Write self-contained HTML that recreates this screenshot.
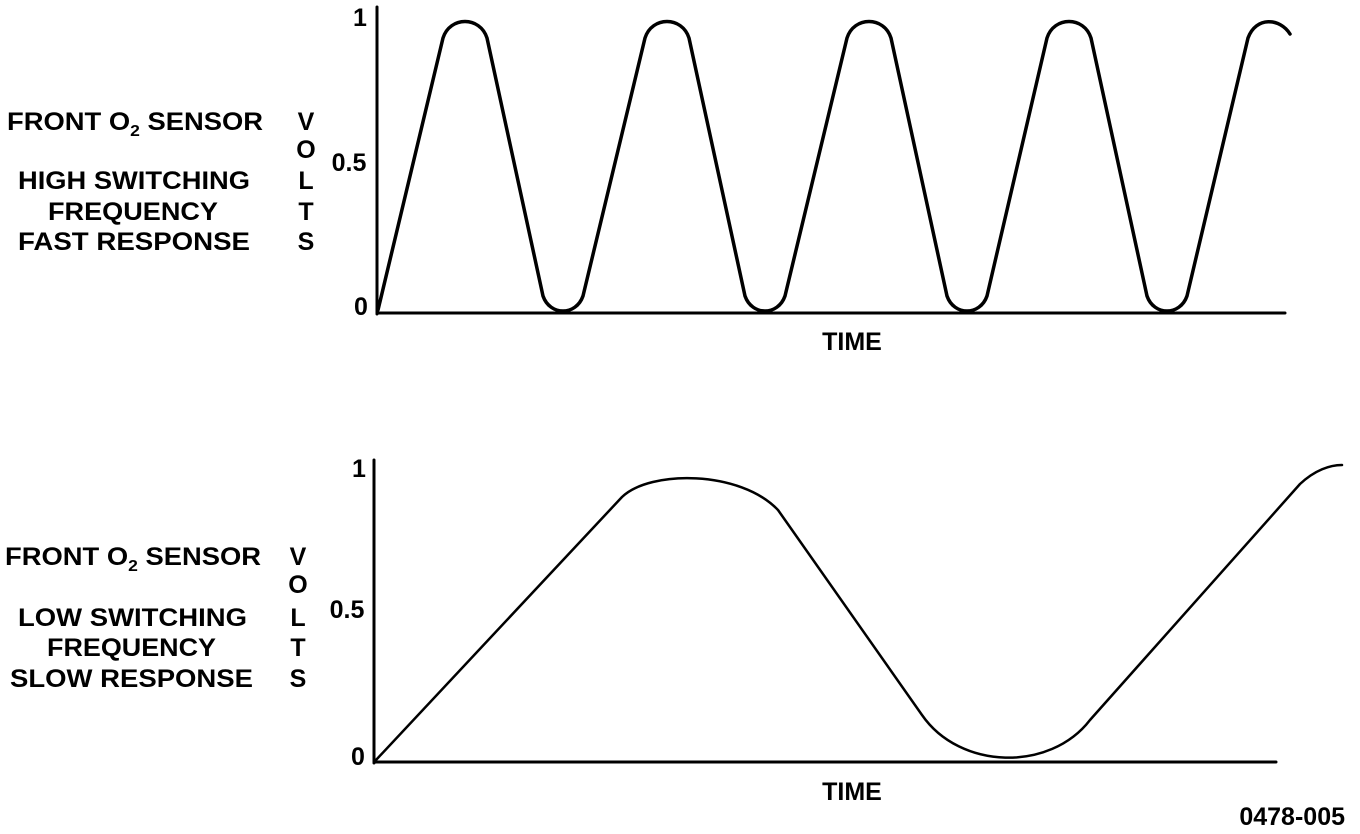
<!DOCTYPE html>
<html><head><meta charset="utf-8"><style>
html,body{margin:0;padding:0;background:#fff;}
svg{display:block;}
text{font-family:"Liberation Sans",Arial,sans-serif;font-weight:bold;fill:#000;font-size:25px;}
</style></head><body>
<svg width="1360" height="834" viewBox="0 0 1360 834" xmlns="http://www.w3.org/2000/svg">
<g fill="none" stroke="#000" stroke-linecap="round" stroke-linejoin="round">
<line x1="377" y1="7" x2="377" y2="314" stroke-width="3"/>
<line x1="377" y1="313" x2="1285" y2="313" stroke-width="3"/>
<path stroke-width="3.5" d="M378,310 L443,38 C450,16 480,16 487,38 L543,296 C550,316 576,316 583,296
L645,38 C652,16 682,16 689,38 L745,296 C752,316 778,316 785,296
L847,38 C854,16 884,16 891,38 L947,296 C954,316 980,316 987,296
L1047,38 C1054,16 1084,16 1091,38 L1147,296 C1154,316 1180,316 1187,296
L1248,38 C1256,16 1280,18 1290,34"/>
<line x1="374" y1="460" x2="374" y2="763" stroke-width="3"/>
<line x1="374" y1="762" x2="1276" y2="762" stroke-width="3"/>
<path stroke-width="2.5" d="M376,760 L622,497 C650,470 740,470 778,510 L922,715 C960,770 1050,772 1090,720 L1300,484 C1315,470 1330,465 1342,465"/>
</g>
<text x="7" y="130" textLength="256" lengthAdjust="spacingAndGlyphs">FRONT O<tspan font-size="16" dy="6">2</tspan><tspan dy="-6"> SENSOR</tspan></text>
<text x="18" y="189" textLength="232" lengthAdjust="spacingAndGlyphs">HIGH SWITCHING</text>
<text x="48" y="220" textLength="170" lengthAdjust="spacingAndGlyphs">FREQUENCY</text>
<text x="18" y="250" textLength="232" lengthAdjust="spacingAndGlyphs">FAST RESPONSE</text>
<g text-anchor="middle">
<text x="306" y="130">V</text><text x="306" y="158">O</text><text x="306" y="189">L</text><text x="306" y="220">T</text><text x="306" y="250">S</text>
</g>
<text x="349" y="171" text-anchor="middle">0.5</text>
<text x="360" y="26" text-anchor="middle">1</text>
<text x="361" y="315" text-anchor="middle">0</text>
<text x="852" y="350" text-anchor="middle">TIME</text>
<text x="5" y="565" textLength="256" lengthAdjust="spacingAndGlyphs">FRONT O<tspan font-size="16" dy="6">2</tspan><tspan dy="-6"> SENSOR</tspan></text>
<text x="18" y="626" textLength="229" lengthAdjust="spacingAndGlyphs">LOW SWITCHING</text>
<text x="47" y="656" textLength="169" lengthAdjust="spacingAndGlyphs">FREQUENCY</text>
<text x="10" y="687" textLength="243" lengthAdjust="spacingAndGlyphs">SLOW RESPONSE</text>
<g text-anchor="middle">
<text x="298" y="565">V</text><text x="298" y="593">O</text><text x="298" y="626">L</text><text x="298" y="656">T</text><text x="298" y="687">S</text>
</g>
<text x="347" y="618" text-anchor="middle">0.5</text>
<text x="359" y="477" text-anchor="middle">1</text>
<text x="358" y="765" text-anchor="middle">0</text>
<text x="852" y="800" text-anchor="middle">TIME</text>
<text x="1345" y="825" text-anchor="end">0478-005</text>
</svg>
</body></html>
